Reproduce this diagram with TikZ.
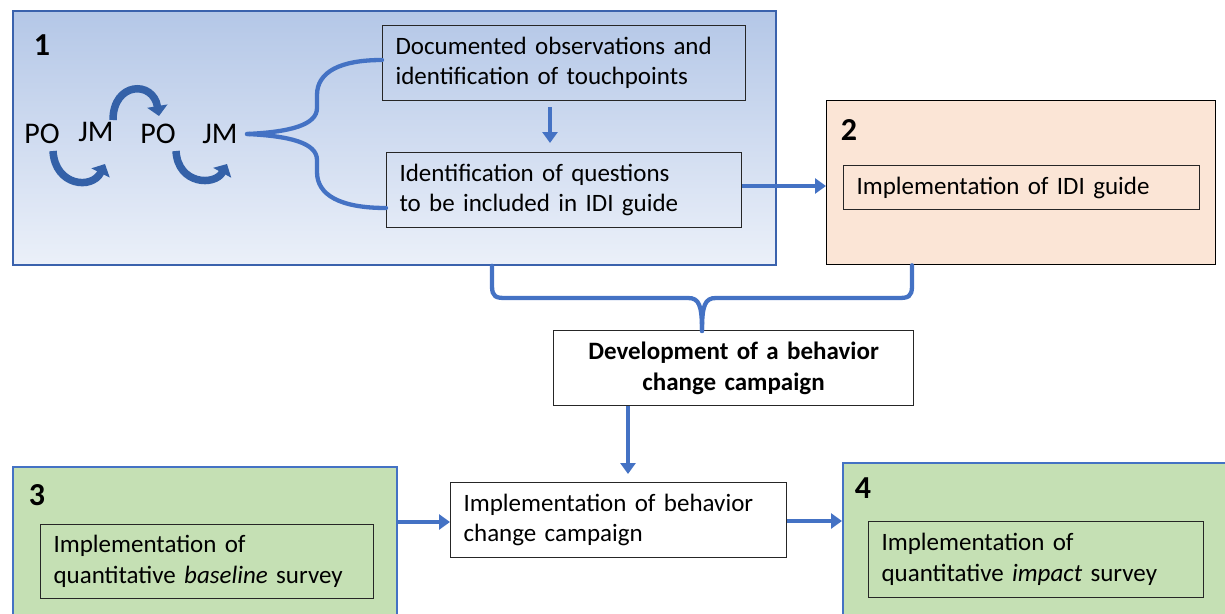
\documentclass[tikz,border=0pt]{standalone}
\usepackage{fontspec}
\setmainfont{Carlito}
\usetikzlibrary{arrows.meta}
\definecolor{cblue}{HTML}{4472C4}
\definecolor{bborder}{HTML}{3A62AD}
\definecolor{gtop}{HTML}{B4C7E7}
\definecolor{gbot}{HTML}{EBF0F9}
\definecolor{peach}{HTML}{FBE5D6}
\definecolor{cgreen}{HTML}{C5E0B4}
\definecolor{darrow}{HTML}{3461A8}
\tikzset{
  txtbox/.style={draw=black!85, line width=1.1pt, align=left, inner xsep=13pt, inner ysep=0pt, anchor=north west, font=\fontsize{25}{30.5}\selectfont},
  bigbox/.style={anchor=north west, line width=1.8pt},
  numlab/.style={font=\fontsize{32}{34}\selectfont\bfseries},
  plab/.style={font=\fontsize{30}{32}\selectfont},
  conn/.style={draw=cblue, line width=4pt, -{Triangle[length=11pt,width=15pt]}},
  brace/.style={draw=cblue, line width=4.3pt, line cap=round},
  fatarr/.style={draw=darrow, line width=7.5pt, -{Triangle[length=10pt,width=20pt]}},
}
\begin{document}
\begin{tikzpicture}[x=1pt,y=-1pt]
\useasboundingbox (0,0) rectangle (1225,613);
\clip (0,0) rectangle (1225,613);

% box 1
\node[bigbox, draw=bborder, top color=gtop, bottom color=gbot, minimum width=763pt, minimum height=254pt] (b1) at (12,10) {};
\node[numlab] (n1) at (42,45) {1};
\node[txtbox, minimum width=363pt, minimum height=75pt, text width=337pt] (doc) at (382,25) {Documented observations and\\identification of touchpoints};
\node[txtbox, minimum width=355pt, minimum height=75pt, text width=329pt] (idq) at (386,152) {Identification of questions\\to be included in IDI guide};

\node[plab] (po1) at (42,134) {PO};
\node[plab] (jm1) at (96,132) {JM};
\node[plab] (po2) at (158,134) {PO};
\node[plab] (jm2) at (220,134) {JM};

\draw[fatarr] (53,151) .. controls (55,186) and (92,190) .. (105,164);
\draw[fatarr] (113,120) .. controls (113,82) and (153,80) .. (159,116);
\draw[fatarr] (176,151) .. controls (178,185) and (215,186) .. (227,164);

% brace to the two boxes
\coordinate (tip1) at (247,134);
\draw[brace] (tip1) .. controls (290,132) and (317,125) .. (317,108)
  -- (317,95) .. controls (317,72) and (340,60) .. (doc.west |- 0,60);
\draw[brace] (tip1) .. controls (290,136) and (317,143) .. (317,160)
  -- (317,172) .. controls (317,195) and (340,208) .. (idq.west |- 0,208);

\draw[conn, shorten <=6pt, shorten >=9pt] (doc.south -| 550,0) -- (idq.north -| 550,0);

% box 2
\node[bigbox, draw=black, line width=1.3pt, fill=peach, minimum width=389pt, minimum height=164pt] (b2) at (826,100) {};
\node[numlab] (n2) at (849,130) {2};
\node[txtbox, minimum width=356pt, minimum height=44pt, text width=330pt] (idi) at (843,165) {Implementation of IDI guide};

\draw[conn] (idq.east |- 0,186) -- (b2.west |- 0,186);

% brace below
\node[txtbox, align=center, font=\fontsize{25}{31}\selectfont\bfseries, minimum width=360pt, minimum height=75pt, text width=334pt] (dev) at (553,330) {Development of a behavior\\change campaign};
\coordinate (tip2) at (702,331);
\draw[brace] (b1.south -| 492,0) -- (492,286) .. controls (492,297) and (496,298) .. (506,298)
  -- (688,298) .. controls (699,298) and (702,305) .. (tip2);
\draw[brace] (b2.south -| 912,0) -- (912,286) .. controls (912,297) and (908,298) .. (898,298)
  -- (716,298) .. controls (705,298) and (702,305) .. (tip2);

% implementation campaign
\node[txtbox, minimum width=336pt, minimum height=75pt, text width=310pt, fill=white] (impl) at (450,482) {Implementation of behavior\\change campaign};
\draw[conn, shorten >=8pt] (dev.south -| 628,0) -- (impl.north -| 628,0);

% box 3
\node[bigbox, draw=cblue, fill=cgreen, minimum width=384pt, minimum height=160pt] (b3) at (12,466) {};
\node[numlab] (n3) at (37,495) {3};
\node[txtbox, minimum width=333pt, minimum height=74pt, text width=307pt] (base) at (40,524) {Implementation of\\quantitative \emph{baseline} survey};

% box 4
\node[bigbox, draw=cblue, fill=cgreen, minimum width=400pt, minimum height=160pt] (b4) at (842,462) {};
\node[numlab] (n4) at (863,488) {4};
\node[txtbox, minimum width=335pt, minimum height=76pt, text width=309pt] (imp) at (868,521) {Implementation of\\quantitative \emph{impact} survey};

\draw[conn] (b3.east |- 0,522) -- (impl.west |- 0,522);
\draw[conn] (impl.east |- 0,521) -- (b4.west |- 0,521);
\end{tikzpicture}
\end{document}
